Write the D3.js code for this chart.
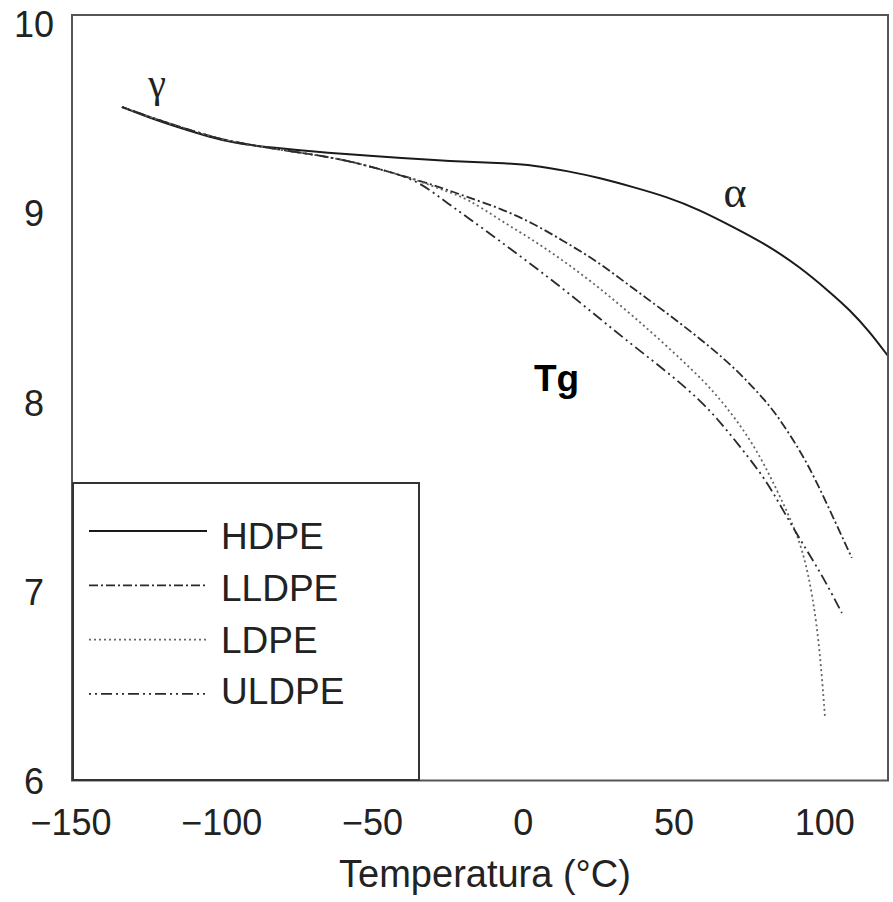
<!doctype html>
<html lang="pt">
<head>
    <meta charset="utf-8">
    <script src="https://d3js.org/d3.v7.min.js"></script>
    <title>Temperatura</title>
    <style>
        body { margin: 0; background: #fff; }
        text { font-family: "Liberation Sans", Arial, sans-serif; fill: #222; }
    </style>
</head>
<body>
    <svg id="svg1" width="893" height="902"></svg>

    <script>
        // curvas: [temperatura (°C), valor]
        const hdpe = [
            [-133.1, 9.559], [-123.8, 9.501], [-113.8, 9.448], [-103.9, 9.400], [-96.3, 9.369],
            [-82.3, 9.342], [-68.4, 9.321], [-54.1, 9.305], [-40.9, 9.289], [-24.3, 9.273],
            [-7.7, 9.263], [3.3, 9.252], [14.5, 9.221], [25.5, 9.184], [36.4, 9.136],
            [47.7, 9.084], [58.6, 9.015], [69.6, 8.925], [80.9, 8.830], [91.8, 8.713],
            [101.7, 8.581], [108.4, 8.486], [115.0, 8.370], [121.0, 8.243]
        ];
        const lldpe = [
            [-133.1, 9.559], [-123.8, 9.506], [-113.8, 9.453], [-103.9, 9.405], [-96.3, 9.374],
            [-82.3, 9.337], [-68.4, 9.305], [-57.5, 9.273], [-46.5, 9.226], [-35.2, 9.173],
            [-26.6, 9.130], [-18.6, 9.083], [-7.7, 9.024], [3.3, 8.945], [14.5, 8.840],
            [25.5, 8.734], [36.4, 8.600], [47.7, 8.470], [58.6, 8.335], [69.6, 8.190],
            [80.9, 8.000], [86.2, 7.884], [94.2, 7.683], [101.7, 7.429], [109.0, 7.176]
        ];
        const ldpe = [
            [-133.1, 9.559], [-123.8, 9.506], [-113.8, 9.453], [-103.9, 9.405], [-96.3, 9.374],
            [-82.3, 9.337], [-68.4, 9.305], [-57.5, 9.273], [-46.5, 9.226], [-35.2, 9.173],
            [-26.6, 9.119], [-18.6, 9.077], [-7.7, 8.961], [3.3, 8.856], [14.5, 8.734],
            [25.5, 8.600], [36.4, 8.455], [47.7, 8.295], [58.6, 8.132], [64.2, 8.035],
            [70.8, 7.905], [77.4, 7.747], [82.8, 7.580], [88.4, 7.392], [92.8, 7.218],
            [96.1, 6.970], [98.4, 6.689], [100.1, 6.335]
        ];
        const uldpe = [
            [-133.1, 9.559], [-123.8, 9.506], [-113.8, 9.453], [-103.9, 9.405], [-96.3, 9.374],
            [-82.3, 9.337], [-68.4, 9.305], [-57.5, 9.273], [-46.5, 9.226], [-35.2, 9.173],
            [-26.6, 9.067], [-18.6, 8.978], [-7.7, 8.850], [3.3, 8.720], [14.5, 8.582],
            [25.5, 8.440], [36.4, 8.298], [47.7, 8.160], [58.6, 8.011], [65.3, 7.895],
            [71.9, 7.765], [78.5, 7.630], [82.8, 7.525], [88.4, 7.365], [94.0, 7.218],
            [98.4, 7.102], [101.7, 7.007], [105.7, 6.885]
        ];

        const seriesNames = ["HDPE", "LLDPE", "LDPE", "ULDPE"];
        const xTicks = [-150, -100, -50, 0, 50, 100];
        const yTicks = [6, 7, 8, 9, 10];
        const xLabel = "Temperatura (°C)";

        const styles = {
            HDPE:  { color: "#1a1a1a", width: 2, dash: null },
            LLDPE: { color: "#2a2a2a", width: 1.8, dash: "9,3,2,3" },
            LDPE:  { color: "#666", width: 1.8, dash: "2,3" },
            ULDPE: { color: "#2a2a2a", width: 1.8, dash: "2,4,2,4,11,4" }
        };

        let svg = d3.select("#svg1");
        let plot = { left: 72, right: 888, top: 15, bottom: 780.5 };

        let xScale = d3.scaleLinear().domain([-150, 121]).range([71, 888]);
        let yScale = d3.scaleLinear().domain([6, 10.045]).range([780.5, 15]);

        svg.append("clipPath").attr("id", "clip")
            .append("rect")
            .attr("x", plot.left).attr("y", plot.top)
            .attr("width", plot.right - plot.left).attr("height", plot.bottom - plot.top);

        let lineGen = d3.line()
            .x(d => xScale(d[0]))
            .y(d => yScale(d[1]))
            .curve(d3.curveBasis);

        let allData = [hdpe, lldpe, ldpe, uldpe];

        let curves = svg.append("g").attr("clip-path", "url(#clip)");
        curves.selectAll("path")
            .data(allData)
            .join("path")
            .attr("d", lineGen)
            .attr("fill", "none")
            .attr("stroke", (d, i) => styles[seriesNames[i]].color)
            .attr("stroke-width", (d, i) => styles[seriesNames[i]].width)
            .attr("stroke-dasharray", (d, i) => styles[seriesNames[i]].dash);

        // moldura
        svg.append("rect")
            .attr("x", plot.left).attr("y", plot.top)
            .attr("width", plot.right - plot.left).attr("height", plot.bottom - plot.top)
            .attr("fill", "none")
            .attr("stroke", "#555")
            .attr("stroke-width", 2);

        // rotulos dos eixos
        svg.append("g").selectAll("text")
            .data(xTicks)
            .join("text")
            .attr("x", d => xScale(d))
            .attr("y", 835)
            .attr("text-anchor", "middle")
            .attr("font-size", 36)
            .text(d => d < 0 ? "\u2212" + Math.abs(d) : d);

        svg.append("g").selectAll("text")
            .data(yTicks)
            .join("text")
            .attr("x", 34)
            .attr("y", d => yScale(d))
            .attr("dy", "0.38em")
            .attr("text-anchor", "middle")
            .attr("font-size", 36)
            .text(d => d);

        svg.append("text")
            .attr("x", 485)
            .attr("y", 887)
            .attr("text-anchor", "middle")
            .attr("font-size", 38)
            .text(xLabel);

        // anotacoes
        svg.append("text")
            .attr("x", 157).attr("y", 97)
            .attr("text-anchor", "middle")
            .attr("font-size", 40)
            .style("font-family", "'Liberation Serif', 'DejaVu Serif', serif")
            .text("γ");

        svg.append("text")
            .attr("x", 735).attr("y", 207)
            .attr("text-anchor", "middle")
            .attr("font-size", 44)
            .style("font-family", "'Liberation Serif', 'DejaVu Serif', serif")
            .text("α");

        svg.append("text")
            .attr("x", 534).attr("y", 391)
            .attr("font-size", 37)
            .attr("font-weight", "bold")
            .style("fill", "#000")
            .text("Tg");

        // legenda
        let legend = svg.append("g");
        legend.append("rect")
            .attr("x", 73).attr("y", 483)
            .attr("width", 346).attr("height", 297)
            .attr("fill", "#fff")
            .attr("stroke", "#333")
            .attr("stroke-width", 2);

        let items = legend.selectAll("g.item")
            .data(seriesNames)
            .join("g")
            .attr("class", "item");

        items.append("line")
            .attr("x1", 89).attr("x2", 207)
            .attr("y1", (d, i) => 531 + i * 54.3)
            .attr("y2", (d, i) => 531 + i * 54.3)
            .attr("stroke", d => styles[d].color)
            .attr("stroke-width", d => styles[d].width)
            .attr("stroke-dasharray", d => styles[d].dash);

        items.append("text")
            .attr("x", 221)
            .attr("y", (d, i) => 549 + i * 51.8)
            .attr("font-size", 37)
            .text(d => d);
    </script>
</body>
</html>
